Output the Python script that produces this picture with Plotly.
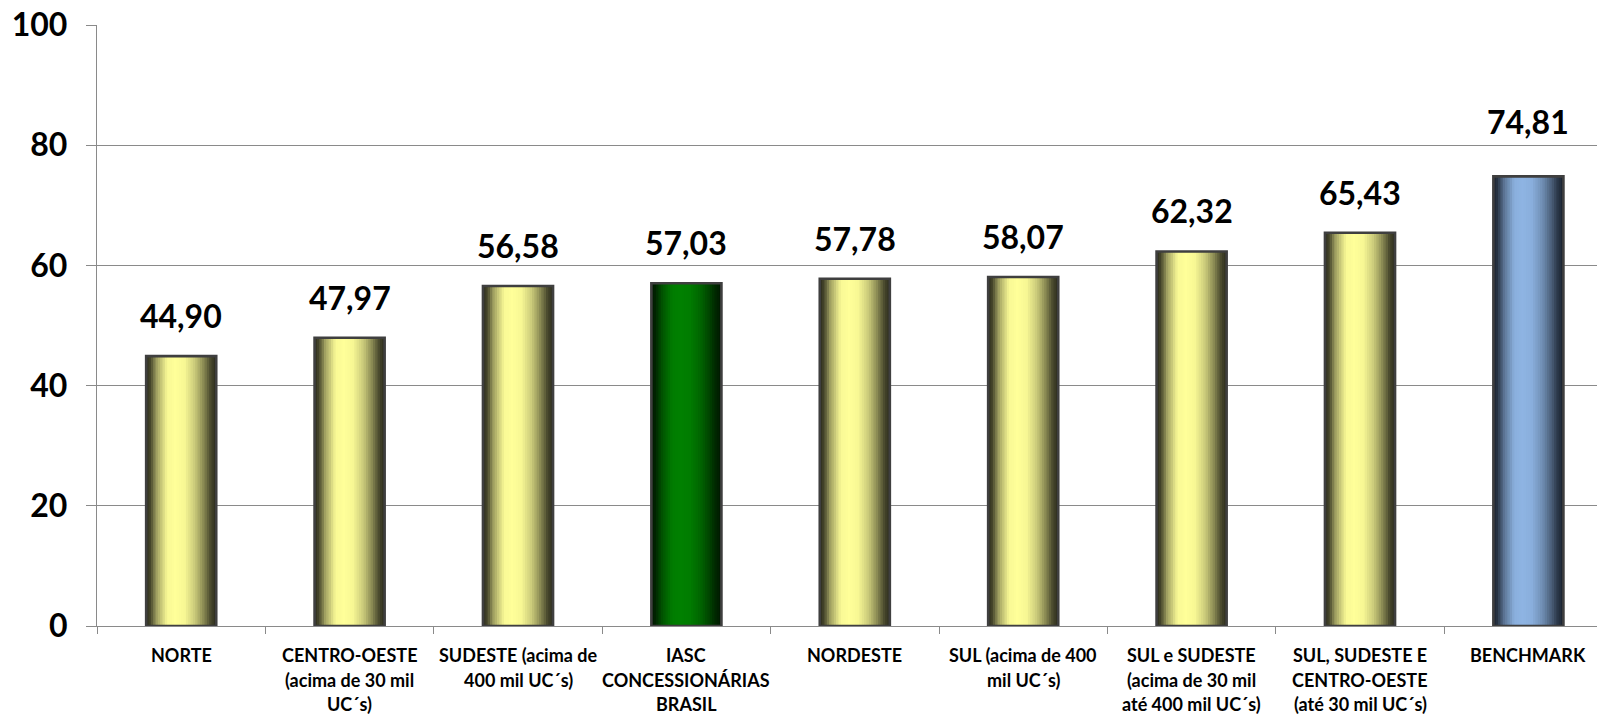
import numpy as np
import plotly.graph_objects as go

# ---- data ---------------------------------------------------------------
categories = [
    "NORTE",
    "CENTRO-OESTE<br>(acima de 30 mil<br>UC´s)",
    "SUDESTE (acima de<br>400 mil UC´s)",
    "IASC<br>CONCESSIONÁRIAS<br>BRASIL",
    "NORDESTE",
    "SUL (acima de 400<br>mil UC´s)",
    "SUL e SUDESTE<br>(acima de 30 mil<br>até 400 mil UC´s)",
    "SUL, SUDESTE E<br>CENTRO-OESTE<br>(até 30 mil UC´s)",
    "BENCHMARK",
]
values = [44.90, 47.97, 56.58, 57.03, 57.78, 58.07, 62.32, 65.43, 74.81]
value_labels = ["44,90", "47,97", "56,58", "57,03", "57,78", "58,07", "62,32", "65,43", "74,81"]
bar_group = ["regiao", "regiao", "regiao", "brasil", "regiao", "regiao", "regiao", "regiao", "benchmark"]
y_ticks = [0, 20, 40, 60, 80, 100]

# ---- styling ------------------------------------------------------------
FONT = "Lato, 'Open Sans', sans-serif"
# (edge colour, centre colour) of the cylinder shading for each group
palette = {
    "regiao": ((0x2c, 0x2c, 0x1c), (0xff, 0xff, 0x99)),
    "brasil": ((0x00, 0x18, 0x00), (0x00, 0x80, 0x00)),
    "benchmark": ((0x1a, 0x22, 0x2e), (0x8e, 0xb4, 0xe3)),
}
# brightness profile across the bar width (0 = left edge, 1 = right edge)
shade_pos = [0.0, 0.06, 0.15, 0.30, 0.42, 0.55, 0.70, 0.82, 0.92, 1.0]
shade_val = [0.0, 0.12, 0.55, 0.97, 1.00, 0.96, 0.74, 0.44, 0.14, 0.0]

BAR_W = 0.416
N_STRIPS = 30
LABEL_GAP = 19          # px between bar top and its value label
EXTRA_GAP = {"benchmark": 14}   # the benchmark label sits a little higher

keys = list(range(len(categories)))


def mix(edge, centre, b):
    return "rgb(%d,%d,%d)" % tuple(round(e + b * (c - e)) for e, c in zip(edge, centre))


fig = go.Figure()

# shaded bars drawn as thin vertical strips, left to right
strip_w = BAR_W / N_STRIPS
for i in range(N_STRIPS):
    t = (i + 0.5) / N_STRIPS
    b = float(np.interp(t, shade_pos, shade_val))
    colors = [mix(*palette[g], b) for g in bar_group]
    fig.add_trace(go.Bar(
        x=keys, y=values,
        width=strip_w * 1.6 if i < N_STRIPS - 1 else strip_w,
        offset=-BAR_W / 2 + i * strip_w,
        marker=dict(color=colors, line=dict(width=0)),
        showlegend=False, hoverinfo="skip",
    ))

# bar outline on top
fig.add_trace(go.Bar(
    x=keys, y=values, width=BAR_W, offset=-BAR_W / 2,
    marker=dict(color="rgba(0,0,0,0)", line=dict(color="#3f3f3f", width=2.6)),
    showlegend=False, hoverinfo="skip",
))

annotations = []
# value labels above the bars
for k, v, lab, g in zip(keys, values, value_labels, bar_group):
    annotations.append(dict(
        x=k, y=v, xref="x", yref="y", text=lab, showarrow=False,
        yanchor="bottom", yshift=LABEL_GAP + EXTRA_GAP.get(g, 0),
        font=dict(family=FONT, size=32, color="#000000", weight="bold"),
    ))
# category labels under the axis, one annotation per text line
LINE_PITCH = 24.5
for k, cat in zip(keys, categories):
    for j, line in enumerate(cat.split("<br>")):
        annotations.append(dict(
            x=k, y=0, xref="x", yref="paper", text=line, showarrow=False,
            yanchor="top", yshift=-16 - j * LINE_PITCH,
            font=dict(family=FONT, size=18, color="#000000", weight="bold"),
        ))

span = 1500 / 168.4
fig.update_layout(
    width=1597, height=715,
    margin=dict(l=97, r=0, t=25, b=89),
    paper_bgcolor="white", plot_bgcolor="white",
    barmode="overlay",
    annotations=annotations,
    xaxis=dict(
        type="linear", range=[-0.5, -0.5 + span],
        tickmode="array", tickvals=[k - 0.5 for k in keys] + [len(keys) - 0.5],
        ticks="outside", ticklen=7, tickcolor="#8a8a8a", tickwidth=1.3,
        showticklabels=False, showgrid=False, zeroline=False,
        showline=True, linecolor="#8a8a8a", linewidth=1.3,
        fixedrange=True,
    ),
    yaxis=dict(
        range=[0, 100], tickmode="array", tickvals=y_ticks,
        ticks="outside", ticklen=10, tickcolor="#8a8a8a", tickwidth=1.3,
        ticklabelstandoff=12,
        showgrid=True, gridcolor="#8a8a8a", gridwidth=1.3,
        zeroline=False, showline=True, linecolor="#8a8a8a", linewidth=1.3,
        tickfont=dict(family=FONT, size=32, color="#000000", weight="bold"),
        fixedrange=True,
    ),
)

fig.write_html("out.html")
